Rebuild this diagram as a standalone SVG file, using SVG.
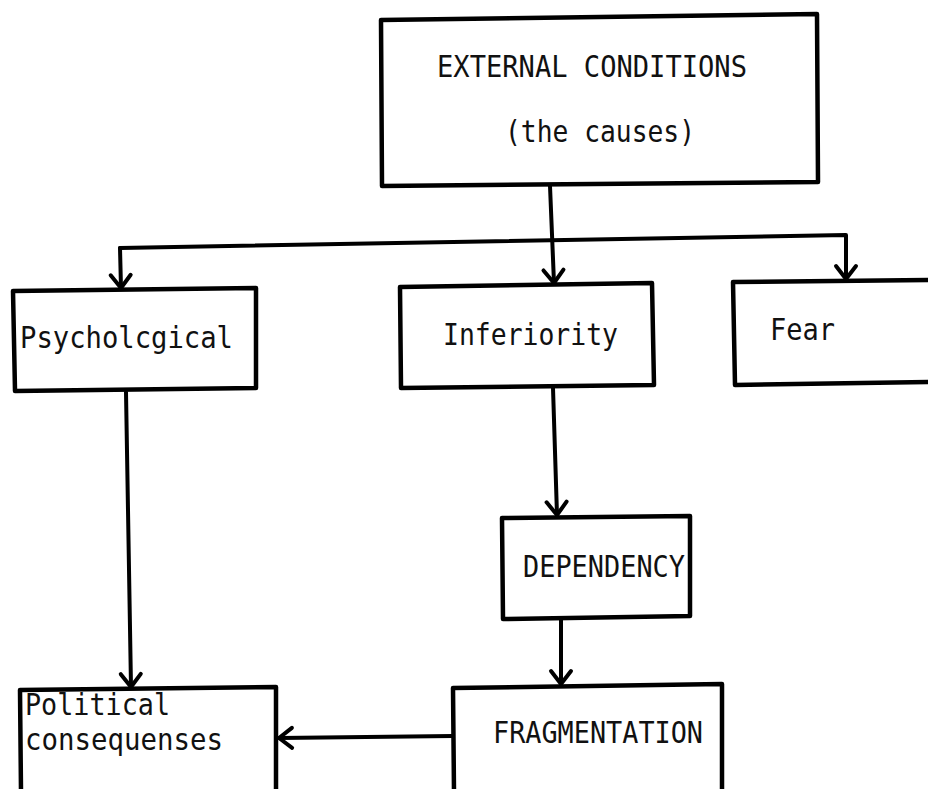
<svg xmlns="http://www.w3.org/2000/svg" width="928" height="789" viewBox="0 0 928 789">
<style>
.box{fill:#fff;stroke:#000;stroke-width:4.5;stroke-linejoin:round}
.t{font-family:"DejaVu Sans Mono","Liberation Mono",monospace;font-size:30px;fill:#111}
.c{fill:none;stroke:#000;stroke-width:4;stroke-linecap:round;stroke-linejoin:round}
</style>
<defs>
<marker id="ah" markerUnits="userSpaceOnUse" markerWidth="30" markerHeight="30" viewBox="-15 -15 30 30" refX="0" refY="0" orient="auto" overflow="visible">
<path d="M -13 -10 L 0 0 L -13 10" fill="none" stroke="#000" stroke-width="4" stroke-linecap="round" stroke-linejoin="round"/>
</marker>
</defs>
<rect width="928" height="789" fill="#fff"/>
<g id="connectors">
<path class="c" d="M 550 186 L 554 283" marker-end="url(#ah)"/>
<path class="c" d="M 120 248 L 846 235 L 846 279" marker-end="url(#ah)"/>
<path class="c" d="M 120 248 L 121 288" marker-end="url(#ah)"/>
<path class="c" d="M 126 392 L 131 687" marker-end="url(#ah)"/>
<path class="c" d="M 553 388 L 557 515" marker-end="url(#ah)"/>
<path class="c" d="M 561 619 L 561 684" marker-end="url(#ah)"/>
<path class="c" d="M 453 736 L 279 738" marker-end="url(#ah)"/>
</g>
<g id="external">
<path class="box" d="M 381 20 L 817 14 L 818 182 L 382 186 Z"/>
<text class="t" x="437" y="77" textLength="310" lengthAdjust="spacingAndGlyphs">EXTERNAL CONDITIONS</text>
<text class="t" x="505" y="142" textLength="190" lengthAdjust="spacingAndGlyphs">(the causes)</text>
</g>
<g id="psychological">
<path class="box" d="M 13 291 L 256 288 L 256 388 L 15 391 Z"/>
<text class="t" x="20" y="348" textLength="213" lengthAdjust="spacingAndGlyphs">Psycholcgical</text>
</g>
<g id="inferiority">
<path class="box" d="M 400 287 L 652 283 L 654 385 L 401 388 Z"/>
<text class="t" x="443" y="345" textLength="175" lengthAdjust="spacingAndGlyphs">Inferiority</text>
</g>
<g id="fear">
<path class="box" d="M 733 282 L 932 280 L 932 382 L 735 385 Z"/>
<text class="t" x="770" y="340" textLength="65" lengthAdjust="spacingAndGlyphs">Fear</text>
</g>
<g id="dependency">
<path class="box" d="M 502 518 L 690 516 L 690 616 L 503 619 Z"/>
<text class="t" x="523" y="577" textLength="162" lengthAdjust="spacingAndGlyphs">DEPENDENCY</text>
</g>
<g id="fragmentation">
<path class="box" d="M 453 688 L 722 684 L 722 792 L 454 792 Z"/>
<text class="t" x="493" y="743" textLength="210" lengthAdjust="spacingAndGlyphs">FRAGMENTATION</text>
</g>
<g id="political">
<path class="box" d="M 20 690 L 276 687 L 276 792 L 21 792 Z"/>
<text class="t" x="25" y="715" textLength="145" lengthAdjust="spacingAndGlyphs">Political</text>
<text class="t" x="25" y="750" textLength="198" lengthAdjust="spacingAndGlyphs">consequenses</text>
</g>
</svg>
